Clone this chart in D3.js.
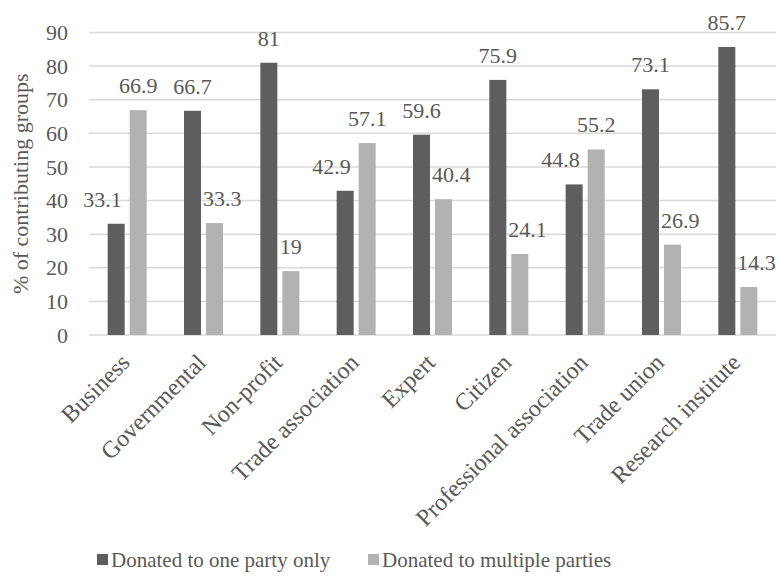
<!DOCTYPE html>
<html><head><meta charset="utf-8">
<script src="https://cdn.jsdelivr.net/npm/d3@7"></script>
<style>body{margin:0;background:#fff}svg{display:block}</style>
</head><body><svg id="c" width="777" height="581"></svg>
<script>
const categories = ["Business","Governmental","Non-profit","Trade association","Expert","Citizen","Professional association","Trade union","Research institute"];
const seriesNames = ["Donated to one party only","Donated to multiple parties"];
const oneParty = [33.1,66.7,81,42.9,59.6,75.9,44.8,73.1,85.7];
const multipleParties = [66.9,33.3,19,57.1,40.4,24.1,55.2,26.9,14.3];
const yTicks = [0,10,20,30,40,50,60,70,80,90];
const colors = ["#5e5e5e","#b2b2b2"];

(function(){
const FONT = "Liberation Serif";
const TXT = "#595959";
const svg = d3.select("#c");
const pl = 89, pr = 776, pt = 32.5, pb = 335;
const x = d3.scaleBand().domain(categories).range([pl,pr]).paddingInner(0).paddingOuter(0);
const y = d3.scaleLinear().domain([0,90]).range([pb,pt]);
const bw = 17, gap = 5;
const off = [x.bandwidth()/2 - gap/2 - bw, x.bandwidth()/2 + gap/2];
const txt = (sel, fs=22) => sel.attr("font-family",FONT).attr("fill",TXT).attr("font-size",fs);

svg.append("g").selectAll("line").data(yTicks).join("line")
  .attr("x1",pl).attr("x2",pr).attr("y1",d=>y(d)).attr("y2",d=>y(d))
  .attr("stroke","#d9d9d9").attr("stroke-width",1.5);
svg.append("g").selectAll("text").data(yTicks).join("text")
  .attr("x",68).attr("y",d=>y(d)).attr("dy","0.35em").attr("text-anchor","end")
  .call(txt).text(d=>d);
svg.append("text").attr("transform",`translate(28,${(pt+pb)/2}) rotate(-90)`)
  .attr("text-anchor","middle").call(txt).text("% of contributing groups");

const series = [oneParty, multipleParties];
const data = [];
categories.forEach((c,i)=>series.forEach((s,k)=>data.push({c,i,k,v:s[i]})));
svg.append("g").selectAll("rect").data(data).join("rect")
  .attr("x",d=>x(d.c)+off[d.k]).attr("width",bw)
  .attr("y",d=>y(d.v)).attr("height",d=>y(0)-y(d.v))
  .attr("fill",d=>colors[d.k]);

const lg = svg.append("g");
data.forEach(d=>{
  const cx = x(d.c)+off[d.k]+bw/2;
  const t = lg.append("text").call(txt).attr("text-anchor","middle")
    .attr("x",cx).attr("y",y(d.v)-17).text(d.v);
  const w = t.node().getComputedTextLength();
  const other = series[1-d.k][d.i];
  if (other > d.v) {
    if (d.k===0) {
      const lightLeft = x(d.c)+off[1];
      if (cx + w/2 > lightLeft - 8) t.attr("x", lightLeft - 8 - w/2);
    } else {
      const darkRight = x(d.c)+off[0]+bw;
      if (cx - w/2 < darkRight + 2) t.attr("x", darkRight + 2 + w/2);
    }
  }
});

svg.append("g").selectAll("text").data(categories).join("text")
  .attr("transform",d=>`translate(${x(d)+x.bandwidth()/2+4},${pb+29}) rotate(-45)`)
  .attr("text-anchor","end").call(txt,24).text(d=>d);

const legX = [97,368];
const leg = svg.append("g");
seriesNames.forEach((n,k)=>{
  leg.append("rect").attr("x",legX[k]).attr("y",554).attr("width",11).attr("height",11).attr("fill",colors[k]);
  leg.append("text").attr("x",legX[k]+14).attr("y",567).call(txt,21).text(n);
});
})();
</script></body></html>
